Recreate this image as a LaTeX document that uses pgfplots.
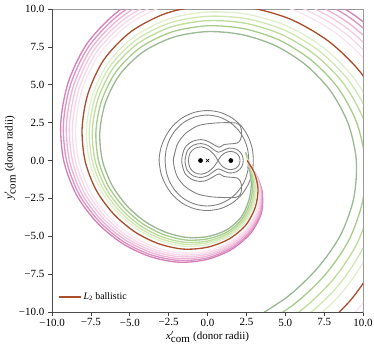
\documentclass[border=0pt]{standalone}
\usepackage{fontspec}
\setmainfont{Liberation Serif}
\usepackage{pgfplots}
\usepackage{pgfplotstable}
\pgfplotsset{compat=1.18}

\definecolor{ballistic}{RGB}{170,78,46}
\definecolor{roche}{RGB}{128,128,128}
\definecolor{pk1}{HTML}{D67FB6}
\definecolor{pk2}{HTML}{DE93C3}
\definecolor{pk3}{HTML}{ECB3D5}
\definecolor{pk4}{HTML}{F3C9E1}
\definecolor{pk5}{HTML}{F7D8EA}
\definecolor{pk6}{HTML}{FAE4F0}
\definecolor{gn1}{HTML}{9BB995}
\definecolor{gn2}{HTML}{A8CC8A}
\definecolor{gn3}{HTML}{BDDC9B}
\definecolor{gn4}{HTML}{CFE8B2}
\definecolor{gn5}{HTML}{E0F0CC}

% trajectories: polar angle t (deg) and radius of each run
\pgfplotstableread{
t      B     G1    G2    G3    G4    G5    P1    P2    P3    P4    P5    P6
12.65  nan   2.51  nan   nan   nan   nan   nan   nan   nan   nan   nan   nan
10     nan   nan   2.52  nan   nan   nan   nan   nan   nan   nan   nan   nan
7.5    nan   nan   nan   2.53  nan   nan   nan   nan   nan   nan   nan   nan
5      nan   nan   nan   nan   2.54  nan   nan   nan   nan   nan   nan   nan
3      nan   nan   nan   nan   nan   2.55  nan   nan   nan   nan   nan   nan
0      2.55  2.62  2.60  2.59  2.58  2.57  nan   nan   nan   nan   nan   nan
-3     nan   nan   nan   nan   nan   nan   nan   nan   nan   nan   nan   2.56
-5     nan   nan   nan   nan   nan   nan   nan   nan   nan   nan   2.57  nan
-6     nan   nan   nan   nan   nan   nan   nan   nan   nan   2.58  nan   nan
-8     nan   nan   nan   nan   nan   nan   nan   nan   2.59  nan   nan   nan
-9     nan   nan   nan   nan   nan   nan   nan   2.60  nan   nan   nan   nan
-10    nan   nan   nan   nan   nan   nan   2.60  nan   nan   nan   nan   nan
-15    3.12  2.82  2.89  2.95  3.00  3.05  3.17  3.16  3.16  3.15  3.14  3.14
-30    3.75  3.25  3.36  3.46  3.55  3.63  4.05  4.01  3.97  3.93  3.89  3.84
-45    4.35  3.75  3.88  4.00  4.10  4.20  4.90  4.83  4.75  4.67  4.60  4.52
-60    4.92  4.32  4.45  4.57  4.67  4.77  5.54  5.46  5.37  5.29  5.20  5.11
-75    5.36  4.74  4.88  5.00  5.11  5.21  6.06  5.97  5.87  5.77  5.68  5.57
-90    5.72  5.02  5.17  5.31  5.43  5.55  6.52  6.42  6.30  6.19  6.08  5.96
-105   6.05  5.25  5.43  5.59  5.72  5.85  6.95  6.83  6.71  6.58  6.46  6.32
-120   6.33  5.45  5.64  5.82  5.97  6.11  7.33  7.20  7.06  6.92  6.78  6.63
-135   6.64  5.69  5.90  6.09  6.25  6.40  7.74  7.60  7.44  7.29  7.14  6.97
-150   7.00  5.98  6.20  6.41  6.58  6.75  8.20  8.04  7.88  7.71  7.54  7.36
-165   7.43  6.35  6.59  6.80  6.99  7.16  8.73  8.56  8.38  8.20  8.02  7.82
-180   7.88  6.76  7.01  7.23  7.42  7.60  9.25  9.07  8.88  8.69  8.50  8.29
-195   8.35  7.17  7.43  7.67  7.87  8.06  9.77  9.59  9.39  9.19  8.99  8.78
-210   8.87  7.59  7.87  8.13  8.35  8.55  10.34 10.15 9.94  9.74  9.53  9.31
-225   9.42  8.00  8.31  8.60  8.84  9.07  10.94 10.74 10.53 10.32 10.10 9.88
-240   9.83  8.28  8.62  8.93  9.19  9.44  11.41 11.20 10.98 10.76 10.54 10.30
-255   10.08 8.43  8.79  9.12  9.40  9.67  11.78 11.56 11.32 11.08 10.85 10.59
-270   10.23 8.51  8.89  9.23  9.52  9.80  12.08 11.84 11.58 11.32 11.06 10.79
-285   10.45 8.60  9.01  9.38  9.69  9.99  12.45 12.19 11.91 11.63 11.35 11.05
-300   10.75 8.75  9.19  9.59  9.93  10.25 12.93 12.65 12.34 12.04 11.73 11.40
-315   11.08 8.93  9.40  9.83  10.20 10.54 13.48 13.17 12.83 12.50 12.16 11.80
-330   11.45 9.15  9.66  10.12 10.51 10.88 14.00 13.67 13.31 12.95 12.60 12.22
-345   11.82 9.37  9.91  10.40 10.82 11.21 14.42 14.08 13.72 13.35 12.99 12.60
-360   12.15 9.57  10.14 10.65 11.09 11.51 14.75 14.41 14.05 13.68 13.32 12.93
-375   12.45 9.73  10.33 10.87 11.33 11.77 15.00 14.67 14.31 13.95 13.60 13.22
-390   12.72 9.87  10.50 11.07 11.55 12.01 15.22 14.90 14.55 14.20 13.85 13.47
-405   13.02 10.02 10.68 11.28 11.79 12.27 15.47 15.15 14.81 14.47 14.12 13.76
-420   13.35 10.35 11.01 11.61 12.12 12.60 15.75 15.44 15.10 14.77 14.43 14.07
-435   13.70 10.90 11.52 12.08 12.55 13.00 16.05 15.74 15.42 15.09 14.76 14.41
}\traj

% two outer equipotential rings: polar angle t (deg) and radius
\pgfplotstableread{
t     R1     R2
-180  3.115  2.73
-165  3.11   2.75
-150  3.13   2.81
-135  3.19   2.88
-120  3.25   2.95
-105  3.29   2.99
-90   3.30   3.00
-75   3.28   2.97
-60   3.22   2.90
-45   3.14   2.82
-30   3.05   2.74
-15   2.98   2.68
0     2.945  2.65
15    2.98   2.68
30    3.05   2.74
45    3.14   2.82
60    3.22   2.90
75    3.28   2.97
90    3.30   3.00
105   3.29   2.99
120   3.25   2.95
135   3.19   2.88
150   3.13   2.81
165   3.11   2.75
180   3.115  2.73
195   3.11   2.75
}\rings

\pgfplotsset{
  table/polar/.style={/pgfplots/table/x expr={\thisrow{#1}*cos(\thisrow{t})},
                      /pgfplots/table/y expr={\thisrow{#1}*sin(\thisrow{t})}},
  traj/.style={line width=1.2pt, smooth, forget plot},
  contour/.style={roche, line width=0.8pt, smooth, forget plot}}

\begin{document}
\begin{tikzpicture}
\begin{axis}[name=ax,
    scale only axis, width=282.7pt, height=275.5pt,
    xmin=-10, xmax=10, ymin=-10, ymax=10,
    unbounded coords=discard,
    xtick={-10,-7.5,-5,-2.5,0,2.5,5,7.5,10},
    ytick={-10,-7.5,-5,-2.5,0,2.5,5,7.5,10},
    xticklabels={−10.0,−7.5,−5.0,−2.5,0.0,2.5,5.0,7.5,10.0},
    yticklabels={−10.0,−7.5,−5.0,−2.5,0.0,2.5,5.0,7.5,10.0},
    xtick pos=bottom, ytick pos=left,
    tick align=outside, major tick length=3.5pt,
    tick style={black!75, line width=0.7pt},
    xticklabel style={yshift=1pt},
    axis line style={draw=gray!80, line width=0.7pt},
    xlabel={\textit{x}$'_{\textrm{com}}$ (donor radii)},
    ylabel={\textit{y}$'_{\textrm{com}}$ (donor radii)},
    xlabel style={at={(axis description cs:0.5,-0.081)}, anchor=center},
    ylabel style={at={(axis description cs:-0.135,0.51)}, anchor=center},
    legend style={at={(0.008,0.02)}, anchor=south west, draw=none, fill=none,
      font=\fontsize{9}{11}\selectfont},
    legend cell align=left,
    legend image code/.code={\draw[#1, line width=1.2pt] (0pt,0pt) -- (20pt,0pt);}]

% Roche potential contours
\addplot[contour] table[polar=R1] {\rings};
\addplot[contour] table[polar=R2] {\rings};
\addplot[contour] coordinates {
(-2.20,0) (-1.95,1.05) (-1.40,1.80) (-0.60,2.30) (0.30,2.46) (1.20,2.50) (1.85,2.47) (2.12,2.25) (2.20,1.80) (2.12,1.38) (1.90,1.15) (1.45,1.10) (1.05,1.05) (0.75,0.88) (0.40,1.05) (0.00,1.28) (-0.40,1.38) (-0.95,1.27) (-1.45,0.85) (-1.66,0) (-1.45,-0.85) (-0.95,-1.27) (-0.40,-1.38) (0.00,-1.28) (0.40,-1.05) (0.75,-0.88) (1.05,-1.05) (1.45,-1.10) (1.90,-1.15) (2.12,-1.38) (2.20,-1.80) (2.12,-2.22) (1.85,-2.42) (1.20,-2.44) (0.30,-2.40) (-0.60,-2.22) (-1.40,-1.75) (-1.95,-1.05) (-2.20,0) (-1.95,1.05)};
\addplot[contour] coordinates {
(-1.45,0) (-1.30,0.65) (-0.90,1.02) (-0.40,1.12) (0.05,0.98) (0.42,0.70) (0.70,0.55) (0.98,0.66) (1.40,0.82) (1.88,0.74) (2.20,0.42) (2.30,0) (2.20,-0.42) (1.88,-0.74) (1.40,-0.82) (0.98,-0.66) (0.70,-0.55) (0.42,-0.70) (0.05,-0.98) (-0.40,-1.12) (-0.90,-1.02) (-1.30,-0.65) (-1.45,0) (-1.30,0.65)};
\addplot[contour] coordinates {
(0.67,0) (0.42,0.40) (0.05,0.74) (-0.38,0.90) (-0.82,0.80) (-1.12,0.50) (-1.23,0) (-1.12,-0.50) (-0.82,-0.80) (-0.38,-0.90) (0.05,-0.74) (0.42,-0.40) (0.67,0)};
\addplot[contour] coordinates {
(0.67,0) (0.90,0.33) (1.18,0.53) (1.52,0.60) (1.83,0.50) (2.03,0.28) (2.09,0) (2.03,-0.28) (1.83,-0.50) (1.52,-0.60) (1.18,-0.53) (0.90,-0.33) (0.67,0)};

% outflow trajectories, pink side then green side
\addplot[traj, pk1] table[polar=P1] {\traj};
\addplot[traj, pk2] table[polar=P2] {\traj};
\addplot[traj, pk3] table[polar=P3] {\traj};
\addplot[traj, pk4] table[polar=P4] {\traj};
\addplot[traj, pk5] table[polar=P5] {\traj};
\addplot[traj, pk6] table[polar=P6] {\traj};
\addplot[traj, gn1] table[polar=G1] {\traj};
\addplot[traj, gn2] table[polar=G2] {\traj};
\addplot[traj, gn3] table[polar=G3] {\traj};
\addplot[traj, gn4] table[polar=G4] {\traj};
\addplot[traj, gn5] table[polar=G5] {\traj};

% ballistic L2 trajectory
\addplot[line width=1.2pt, smooth, ballistic] table[polar=B] {\traj};
\addlegendentry{\textit{L}\textsubscript{2} ballistic}

% stars and centre of mass
\addplot[only marks, mark=*, mark size=1.9pt, black, forget plot] coordinates {(-0.45,0) (1.5,0)};
\addplot[only marks, mark=x, mark size=2.2pt, black, line width=0.6pt, forget plot] coordinates {(0,0)};
\end{axis}
\draw[black!70, line width=0.7pt] (ax.north west) -- (ax.south west) -- (ax.south east);
\pgfresetboundingbox
\path[use as bounding box] ([xshift=-47.3pt,yshift=-30.9pt]ax.south west) rectangle ([xshift=10pt,yshift=8.2pt]ax.north east);
\end{tikzpicture}
\end{document}
